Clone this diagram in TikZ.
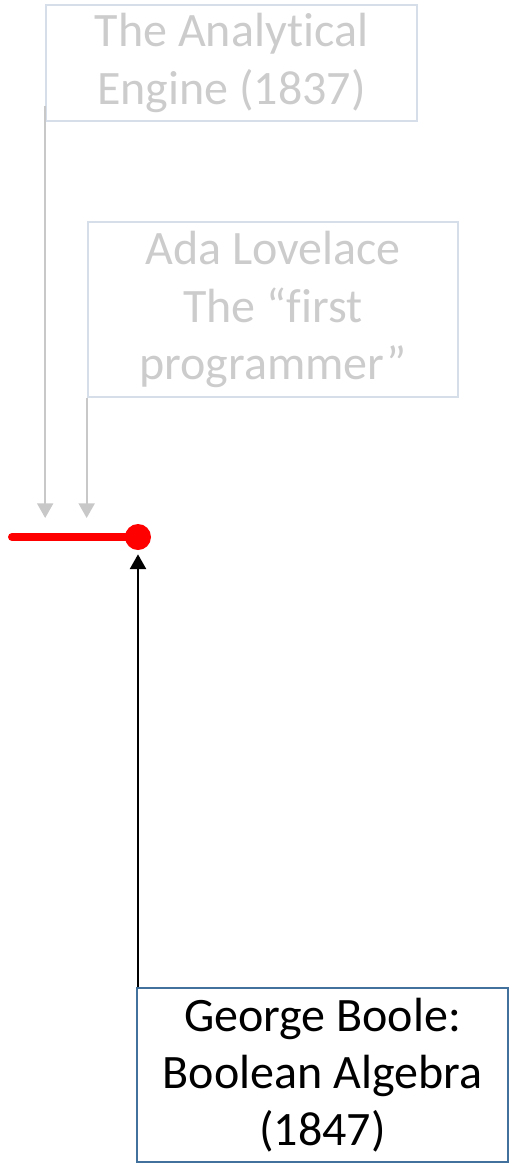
\documentclass[tikz,border=0pt]{standalone}
\usepackage{fontspec}
\setmainfont[Ligatures=NoCommon]{Carlito}
\usetikzlibrary{arrows.meta}

\definecolor{fadetext}{HTML}{CCCCCC}
\definecolor{fadeline}{HTML}{D5DEE9}
\definecolor{boxline}{HTML}{41719C}
\definecolor{linkgray}{HTML}{C8C8C8}

\tikzset{
  event/.style={draw=boxline, line width=1.5pt, align=center, inner sep=0pt,
    minimum width=278pt, font=\fontsize{36}{43}\selectfont},
  faded/.style={event, draw=fadeline, text=fadetext},
  link/.style={line width=1.5pt, -{Triangle[width=12pt,length=11pt]}}
}

\begin{document}
\begin{tikzpicture}[x=0.75pt,y=-0.75pt]
        \useasboundingbox (0,0) rectangle (508,1164);

        % earlier milestones, greyed out
        \node[faded, minimum height=87pt]  (engine)   at (231.5,63)  {The Analytical\\Engine (1837)};
        \node[faded, minimum height=131pt] (lovelace) at (273,309.5) {Ada Lovelace\\The “first\\programmer”};

        % current milestone
        \node[event, minimum height=130pt] (boole)    at (322.5,1075) {George Boole:\\Boolean Algebra\\(1847)};

        % position on the timeline
        \coordinate (dot)   at (138,537);
        \coordinate (start) at (12,537);
        \draw[red, line width=6pt, line cap=round] (start) -- (dot);
        \fill[red] (dot) circle (13);

        \begin{scope}[every path/.style={link}]
          \draw[linkgray] (engine.south west) ++(0,-16) -- (engine.south west |- 0,518);
          \draw[linkgray] (lovelace.south west) -- (lovelace.south west |- 0,518);
          \draw[black] (dot |- boole.north) -- ([yshift=-13pt]dot);
        \end{scope}

      \end{tikzpicture}
\end{document}
